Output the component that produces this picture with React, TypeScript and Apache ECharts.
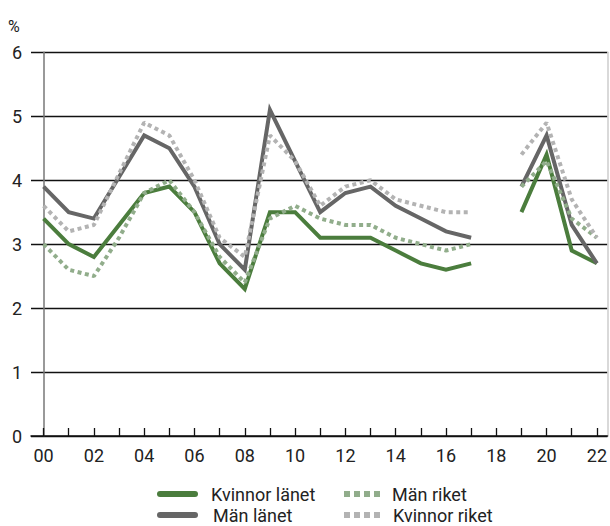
import React, { useEffect, useRef } from "react";
import * as echarts from "echarts";

const years = ["00","01","02","03","04","05","06","07","08","09","10","11","12","13","14","15","16","17","18","19","20","21","22"];
const kvinnorLanet = [3.4,3.0,2.8,3.3,3.8,3.9,3.5,2.7,2.3,3.5,3.5,3.1,3.1,3.1,2.9,2.7,2.6,2.7,null,3.5,4.4,2.9,2.7];
const manLanet = [3.9,3.5,3.4,4.05,4.7,4.5,3.9,3.0,2.6,5.1,4.3,3.5,3.8,3.9,3.6,3.4,3.2,3.1,null,3.9,4.7,3.3,2.7];
const manRiket = [3.0,2.6,2.5,3.1,3.8,4.0,3.5,2.8,2.4,3.4,3.6,3.4,3.3,3.3,3.1,3.0,2.9,3.0,null,3.9,4.3,3.4,3.1];
const kvinnorRiket = [3.6,3.2,3.3,4.1,4.9,4.7,4.0,3.1,2.8,4.7,4.3,3.6,3.9,4.0,3.7,3.6,3.5,3.5,null,4.4,4.9,3.7,3.1];

const FONT = "Roboto";
const SOLID_ICON = "path://M3,0h35a3,3 0 0 1 0,6h-35a3,3 0 0 1 0,-6z";
const DOT_ICON = "path://M0,0h6v6h-6z M10,0h6v6h-6z M20,0h6v6h-6z M30,0h6v6h-6z";

function toData(vals: (number | null)[]) {
  return vals.map((v, i) => [i, v === null ? "-" : v]);
}

export default function App() {
  const ref = useRef<HTMLDivElement>(null);
  useEffect(() => {
    if (!ref.current) return;
    const chart = echarts.init(ref.current, undefined, { renderer: "svg" });
    const tickIdx = years.map((_, i) => i);
    const labelIdx = years.map((_, i) => i).filter((i) => i % 2 === 0);
    const solid = (name: string, data: (number | null)[], color: string) => ({
      name,
      type: "line",
      data: toData(data),
      symbol: "none",
      connectNulls: false,
      lineStyle: { color, width: 4, cap: "butt", join: "miter" },
      itemStyle: { color },
    });
    const dotted = (name: string, data: (number | null)[], color: string) => ({
      name,
      type: "line",
      data: toData(data),
      symbol: "none",
      connectNulls: false,
      lineStyle: { color, width: 4, type: [4, 3.5], cap: "butt" },
      itemStyle: { color },
    });
    const legend = (name: string, left: number, top: number, icon: string, w: number, pad: number) => ({
      data: [{ name, icon }],
      left,
      top,
      padding: 0,
      itemWidth: w,
      itemHeight: 6,
      selectedMode: false,
      textStyle: {
        fontFamily: FONT,
        fontSize: 18,
        lineHeight: 16,
        color: "#222",
        padding: [0, 0, 0, pad],
      },
    });
    chart.setOption({
      animation: false,
      grid: { left: 31, right: 1.5, top: 52.3, bottom: 90 },
      xAxis: {
        type: "value",
        min: -0.5,
        max: 22.42,
        axisLine: { show: true, lineStyle: { color: "#111", width: 1.5 } },
        axisTick: {
          show: true,
          inside: true,
          length: 8,
          customValues: tickIdx,
          lineStyle: { color: "#111", width: 1.3 },
        },
        axisLabel: {
          customValues: labelIdx,
          formatter: (v: number) => years[Math.round(v)] ?? "",
          fontFamily: FONT,
          fontSize: 18,
          color: "#222",
          margin: 10,
        },
        splitLine: { show: false },
      },
      yAxis: [
        {
          type: "value",
          min: 0,
          max: 6,
          interval: 1,
          axisLine: { show: true, lineStyle: { color: "#777", width: 1.5 } },
          axisTick: { show: false },
          axisLabel: {
            fontFamily: FONT,
            fontSize: 18,
            color: "#222",
            margin: 9,
          },
          splitLine: { show: true, lineStyle: { color: "#111", width: 1.3 } },
        },
        {
          type: "value",
          min: 0,
          max: 6,
          position: "right",
          axisLine: { show: true, lineStyle: { color: "#ccc", width: 1.5 } },
          axisTick: { show: false },
          axisLabel: { show: false },
          splitLine: { show: false },
        },
      ],
      graphic: [
        {
          type: "text",
          left: 8,
          top: 18,
          style: { text: "%", fontFamily: FONT, fontSize: 16, fill: "#222" },
        },
      ],
      legend: [
        legend("Kvinnor länet", 157, 485, SOLID_ICON, 41, 8),
        legend("Män länet", 157, 506, SOLID_ICON, 41, 10),
        legend("Män riket", 344, 485, DOT_ICON, 36, 7),
        legend("Kvinnor riket", 344, 506, DOT_ICON, 36, 8),
      ],
      series: [
        solid("Kvinnor länet", kvinnorLanet, "#4b7d3d"),
        solid("Män länet", manLanet, "#666666"),
        dotted("Män riket", manRiket, "#91ad8b"),
        dotted("Kvinnor riket", kvinnorRiket, "#b3b3b3"),
      ],
    });
    return () => chart.dispose();
  }, []);
  return (
    <div
      ref={ref}
      style={{ position: "absolute", left: 0, top: 0, width: 610, height: 526 }}
    />
  );
}
